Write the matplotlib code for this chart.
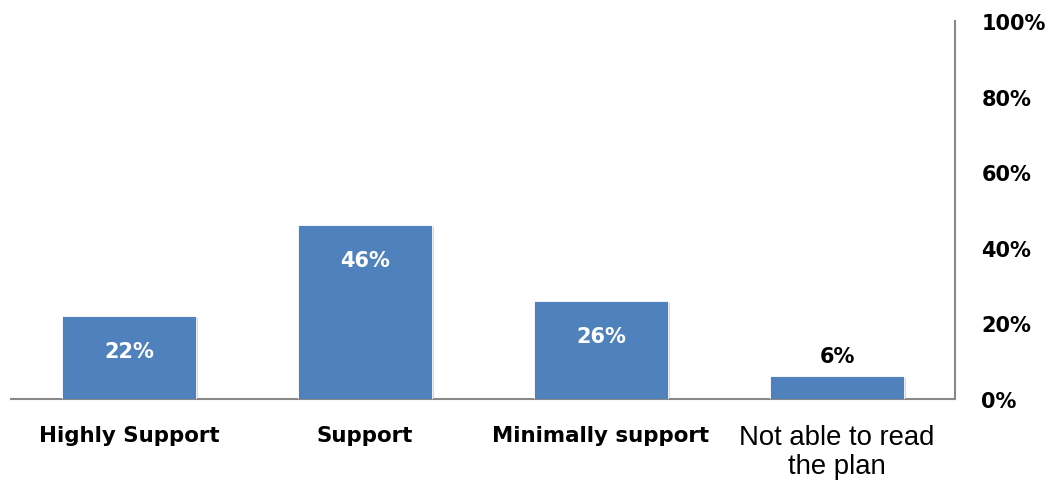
import matplotlib
matplotlib.use('Agg')
import matplotlib.pyplot as plt
from matplotlib import patheffects as pe

categories = ['Highly Support', 'Support', 'Minimally support', 'Not able to read\nthe plan']
values = [22, 46, 26, 6]
yticks = [0, 20, 40, 60, 80, 100]

bar_color = '#4F81BD'
axis_color = '#898989'
gothic = 'DejaVu Sans'

fig = plt.figure(figsize=(10.53, 4.85), dpi=100)
ax = fig.add_axes([11 / 1053, 85 / 485, 944 / 1053, 378 / 485])

x = range(len(categories))
bars = ax.bar(x, values, width=0.568, color=bar_color, edgecolor='white', linewidth=0.6, zorder=3)
for b in bars:
    b.set_path_effects([pe.SimplePatchShadow(offset=(1.5, -1.5), shadow_rgbFace='#b0b0b0', alpha=0.5), pe.Normal()])

ax.set_xlim(-0.5, 3.5)
ax.set_ylim(0, 100)

for spine in ('left', 'top'):
    ax.spines[spine].set_visible(False)
for spine in ('right', 'bottom'):
    ax.spines[spine].set_color(axis_color)
    ax.spines[spine].set_linewidth(1.5)

ax.yaxis.tick_right()
ax.set_yticks(yticks)
ax.set_yticklabels([f'{t}%' for t in yticks], fontsize=15, fontweight='bold', family=gothic, ha='left')
ax.tick_params(axis='y', length=0, pad=19)
ax.set_xticks([])

# category labels under the axis
for i, c in enumerate(categories):
    if '\n' in c:
        ax.text(i, -6.6, c, ha='center', va='top', fontsize=19.8, family='Liberation Sans',
                linespacing=1.13)
    else:
        ax.text(i, -7, c, ha='center', va='top', fontsize=15.4, fontweight='bold', family=gothic)

# value labels: inside the bar in white, or above it when the bar is short
for i, v in enumerate(values):
    if v > 10:
        ax.text(i, v - 9.3, f'{v}%', ha='center', va='center', color='white',
                fontsize=15, fontweight='bold', family=gothic, zorder=4)
    else:
        ax.text(i, v + 5.3, f'{v}%', ha='center', va='center', color='black',
                fontsize=15, fontweight='bold', family=gothic, zorder=4)

fig.savefig('out.png', dpi=100)
